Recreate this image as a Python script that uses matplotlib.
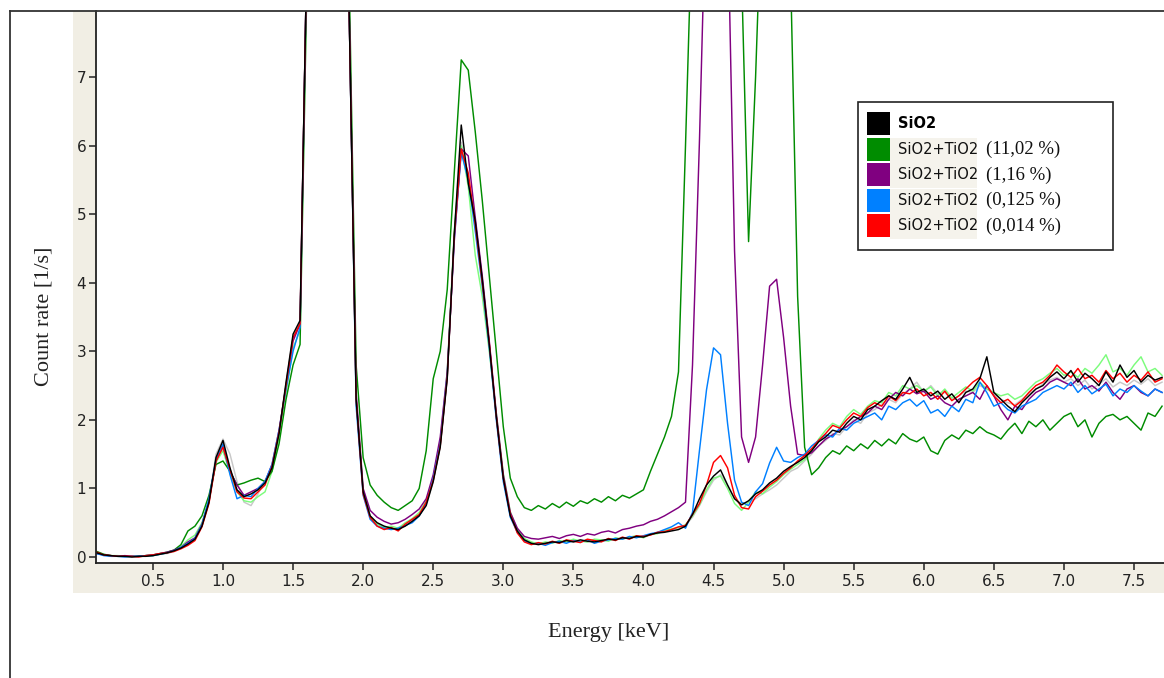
import numpy as np
import matplotlib
matplotlib.use("Agg")
import matplotlib.pyplot as plt
from matplotlib.patches import Rectangle
from matplotlib.lines import Line2D

# energy channels (keV), 0.05 keV apart
energie = np.round(np.arange(0.10, 7.7001, 0.05), 2)

sio2 = [0.06, 0.03, 0.02, 0.01, 0.01, 0.00, 0.01, 0.01, 0.02, 0.04, 0.06, 0.09, 0.13, 0.19, 0.26, 0.45, 0.80, 1.45, 1.70, 1.30,
        0.98, 0.88, 0.92, 0.98, 1.08, 1.30, 1.80, 2.55, 3.25, 3.45, 9.0, 20, 40, 45, 30, 15, 8.0, 2.30, 0.95, 0.60,
        0.50, 0.45, 0.42, 0.40, 0.45, 0.52, 0.60, 0.75, 1.10, 1.60, 2.60, 4.70, 6.30, 5.45, 4.90, 4.05, 3.10, 2.05, 1.15, 0.60,
        0.38, 0.25, 0.20, 0.18, 0.20, 0.22, 0.21, 0.24, 0.22, 0.25, 0.23, 0.22, 0.24, 0.26, 0.25, 0.28, 0.27, 0.30, 0.29, 0.33,
        0.35, 0.36, 0.38, 0.40, 0.45, 0.62, 0.85, 1.05, 1.18, 1.27, 1.05, 0.85, 0.76, 0.82, 0.92, 0.98, 1.08, 1.15, 1.25, 1.32,
        1.38, 1.45, 1.55, 1.68, 1.75, 1.85, 1.82, 1.95, 2.05, 2.00, 2.15, 2.20, 2.28, 2.35, 2.30, 2.45, 2.62, 2.40, 2.45, 2.35,
        2.42, 2.30, 2.38, 2.25, 2.40, 2.45, 2.60, 2.92, 2.40, 2.30, 2.20, 2.12, 2.25, 2.35, 2.45, 2.50, 2.62, 2.70, 2.60, 2.72,
        2.55, 2.68, 2.60, 2.50, 2.70, 2.55, 2.80, 2.62, 2.72, 2.55, 2.65, 2.58, 2.62]

tio2_1102 = [0.08, 0.04, 0.02, 0.01, 0.01, 0.01, 0.01, 0.02, 0.03, 0.05, 0.07, 0.10, 0.18, 0.38, 0.45, 0.60, 0.90, 1.35, 1.40, 1.25,
             1.05, 1.08, 1.12, 1.15, 1.10, 1.25, 1.65, 2.30, 2.80, 3.10, 8.5, 20, 40, 45, 30, 15, 8.5, 2.80, 1.45, 1.05,
             0.90, 0.80, 0.72, 0.68, 0.75, 0.82, 1.00, 1.55, 2.60, 3.00, 3.90, 5.60, 7.25, 7.10, 6.20, 5.20, 4.10, 3.00, 1.90, 1.15,
             0.88, 0.72, 0.68, 0.75, 0.70, 0.78, 0.72, 0.80, 0.74, 0.82, 0.78, 0.85, 0.80, 0.88, 0.82, 0.90, 0.86, 0.92, 0.98, 1.25,
             1.50, 1.75, 2.05, 2.70, 6.00, 9.5, 14, 20, 24, 22, 16, 11, 8.5, 4.60, 7.0, 10, 13, 12, 10, 8.5,
             3.80, 1.60, 1.20, 1.30, 1.45, 1.55, 1.50, 1.62, 1.55, 1.65, 1.58, 1.70, 1.62, 1.72, 1.65, 1.80, 1.72, 1.68, 1.75, 1.55,
             1.50, 1.70, 1.78, 1.72, 1.85, 1.80, 1.90, 1.82, 1.78, 1.72, 1.85, 1.95, 1.80, 1.98, 1.90, 2.00, 1.85, 1.95, 2.05, 2.10,
             1.90, 2.00, 1.75, 1.95, 2.05, 2.08, 2.00, 2.05, 1.95, 1.85, 2.10, 2.05, 2.20]

tio2_116 = [0.05, 0.03, 0.02, 0.01, 0.02, 0.01, 0.01, 0.02, 0.03, 0.05, 0.07, 0.10, 0.14, 0.22, 0.28, 0.48, 0.82, 1.40, 1.62, 1.25,
            1.05, 0.90, 0.95, 1.00, 1.10, 1.35, 1.85, 2.50, 3.15, 3.40, 9.0, 20, 40, 45, 30, 15, 8.0, 2.40, 1.00, 0.68,
            0.58, 0.52, 0.48, 0.50, 0.55, 0.62, 0.70, 0.85, 1.20, 1.75, 2.70, 4.60, 5.95, 5.85, 4.95, 4.10, 3.15, 2.10, 1.20, 0.65,
            0.42, 0.30, 0.27, 0.26, 0.28, 0.30, 0.27, 0.31, 0.33, 0.30, 0.34, 0.32, 0.36, 0.38, 0.35, 0.40, 0.42, 0.45, 0.47, 0.52,
            0.55, 0.60, 0.66, 0.72, 0.80, 2.80, 6.10, 10, 14, 13, 9.5, 4.46, 1.75, 1.38, 1.75, 2.80, 3.95, 4.05, 3.20, 2.20,
            1.50, 1.48, 1.52, 1.62, 1.72, 1.78, 1.85, 1.90, 1.98, 2.05, 2.10, 2.20, 2.15, 2.30, 2.40, 2.35, 2.45, 2.38, 2.42, 2.30,
            2.35, 2.25, 2.20, 2.30, 2.35, 2.40, 2.30, 2.50, 2.35, 2.15, 2.00, 2.20, 2.15, 2.30, 2.40, 2.45, 2.55, 2.60, 2.55, 2.50,
            2.60, 2.45, 2.50, 2.42, 2.55, 2.40, 2.30, 2.45, 2.50, 2.40, 2.35, 2.45, 2.40]

tio2_0125 = [0.05, 0.02, 0.01, 0.01, 0.00, 0.01, 0.01, 0.02, 0.02, 0.04, 0.06, 0.09, 0.14, 0.20, 0.27, 0.47, 0.85, 1.42, 1.65, 1.20,
             0.85, 0.90, 0.88, 1.00, 1.10, 1.35, 1.85, 2.45, 3.00, 3.35, 9.0, 20, 40, 45, 30, 15, 8.0, 2.20, 0.90, 0.55,
             0.45, 0.42, 0.40, 0.42, 0.46, 0.50, 0.60, 0.78, 1.15, 1.65, 2.65, 4.65, 5.90, 5.50, 4.75, 3.95, 3.05, 2.00, 1.10, 0.58,
             0.36, 0.24, 0.19, 0.20, 0.17, 0.21, 0.23, 0.20, 0.24, 0.22, 0.25, 0.20, 0.23, 0.25, 0.27, 0.26, 0.30, 0.28, 0.31, 0.34,
             0.36, 0.40, 0.44, 0.50, 0.42, 0.65, 1.56, 2.44, 3.05, 2.95, 1.95, 1.12, 0.80, 0.75, 0.95, 1.07, 1.37, 1.60, 1.40, 1.38,
             1.45, 1.50, 1.62, 1.70, 1.78, 1.75, 1.88, 1.85, 1.95, 2.00, 2.05, 2.10, 2.00, 2.20, 2.15, 2.25, 2.30, 2.20, 2.28, 2.10,
             2.15, 2.05, 2.20, 2.12, 2.30, 2.25, 2.55, 2.40, 2.20, 2.25, 2.15, 2.10, 2.20, 2.25, 2.30, 2.40, 2.45, 2.50, 2.45, 2.55,
             2.40, 2.50, 2.38, 2.45, 2.52, 2.35, 2.45, 2.40, 2.50, 2.42, 2.35, 2.45, 2.40]

tio2_0014 = [0.07, 0.03, 0.02, 0.01, 0.01, 0.01, 0.00, 0.02, 0.03, 0.05, 0.06, 0.08, 0.12, 0.17, 0.24, 0.44, 0.78, 1.40, 1.60, 1.28,
             0.95, 0.86, 0.85, 0.95, 1.05, 1.32, 1.82, 2.50, 3.20, 3.40, 9.0, 20, 40, 45, 30, 15, 8.0, 2.30, 0.92, 0.58,
             0.45, 0.40, 0.43, 0.38, 0.48, 0.55, 0.62, 0.80, 1.12, 1.62, 2.62, 4.68, 5.95, 5.60, 4.85, 4.00, 3.12, 2.05, 1.15, 0.62,
             0.35, 0.22, 0.18, 0.21, 0.19, 0.23, 0.20, 0.25, 0.23, 0.21, 0.26, 0.24, 0.22, 0.27, 0.24, 0.29, 0.26, 0.31, 0.30, 0.32,
             0.36, 0.37, 0.40, 0.44, 0.46, 0.62, 0.78, 1.05, 1.38, 1.48, 1.30, 0.90, 0.72, 0.70, 0.88, 0.96, 1.05, 1.12, 1.22, 1.30,
             1.40, 1.48, 1.58, 1.70, 1.80, 1.92, 1.88, 2.00, 2.10, 2.05, 2.18, 2.25, 2.20, 2.35, 2.28, 2.40, 2.38, 2.45, 2.35, 2.40,
             2.30, 2.42, 2.28, 2.35, 2.45, 2.55, 2.62, 2.50, 2.35, 2.25, 2.30, 2.20, 2.28, 2.40, 2.50, 2.55, 2.65, 2.80, 2.70, 2.62,
             2.75, 2.60, 2.65, 2.55, 2.72, 2.60, 2.68, 2.55, 2.65, 2.58, 2.70, 2.55, 2.60]

# two more measurements drawn in pale colours (not in the legend)
hellgruen = [0.06, 0.03, 0.02, 0.02, 0.01, 0.01, 0.01, 0.02, 0.02, 0.04, 0.06, 0.09, 0.15, 0.25, 0.32, 0.50, 0.82, 1.38, 1.55, 1.22,
             0.95, 0.82, 0.80, 0.88, 0.95, 1.25, 1.75, 2.40, 3.05, 3.30, 9.0, 20, 40, 45, 30, 15, 8.0, 2.35, 0.98, 0.60,
             0.48, 0.43, 0.45, 0.42, 0.50, 0.56, 0.65, 0.82, 1.15, 1.68, 2.70, 4.75, 6.00, 5.40, 4.40, 3.80, 3.00, 2.10, 1.22, 0.66,
             0.40, 0.27, 0.22, 0.19, 0.22, 0.20, 0.24, 0.22, 0.26, 0.23, 0.22, 0.26, 0.25, 0.23, 0.28, 0.26, 0.29, 0.31, 0.28, 0.33,
             0.34, 0.39, 0.41, 0.43, 0.47, 0.60, 0.76, 0.98, 1.15, 1.18, 1.00, 0.78, 0.68, 0.80, 0.95, 0.92, 1.02, 1.10, 1.20, 1.28,
             1.35, 1.42, 1.55, 1.72, 1.85, 1.95, 1.90, 2.05, 2.15, 2.08, 2.20, 2.28, 2.25, 2.40, 2.35, 2.50, 2.45, 2.50, 2.42, 2.48,
             2.35, 2.45, 2.32, 2.40, 2.48, 2.42, 2.55, 2.45, 2.40, 2.35, 2.38, 2.30, 2.35, 2.45, 2.55, 2.60, 2.68, 2.75, 2.65, 2.70,
             2.62, 2.75, 2.68, 2.80, 2.95, 2.70, 2.75, 2.65, 2.80, 2.92, 2.70, 2.75, 2.65]

grau = [0.05, 0.03, 0.01, 0.01, 0.01, 0.00, 0.01, 0.01, 0.02, 0.04, 0.05, 0.08, 0.13, 0.18, 0.26, 0.46, 0.82, 1.50, 1.72, 1.50,
        1.10, 0.80, 0.75, 0.92, 1.12, 1.28, 1.80, 2.55, 3.20, 3.40, 9.0, 20, 40, 45, 30, 15, 8.0, 2.30, 0.95, 0.58,
        0.48, 0.44, 0.41, 0.43, 0.46, 0.53, 0.61, 0.77, 1.10, 1.62, 2.62, 4.72, 6.05, 5.50, 4.88, 4.02, 3.08, 2.05, 1.18, 0.62,
        0.37, 0.26, 0.21, 0.19, 0.21, 0.22, 0.20, 0.23, 0.22, 0.24, 0.22, 0.23, 0.25, 0.24, 0.27, 0.27, 0.28, 0.29, 0.31, 0.32,
        0.36, 0.37, 0.40, 0.42, 0.46, 0.58, 0.75, 0.95, 1.12, 1.20, 1.05, 0.85, 0.78, 0.80, 0.85, 0.92, 0.98, 1.05, 1.15, 1.25,
        1.30, 1.40, 1.50, 1.62, 1.70, 1.80, 1.78, 1.90, 2.00, 1.95, 2.10, 2.15, 2.22, 2.30, 2.25, 2.38, 2.45, 2.55, 2.40, 2.50,
        2.38, 2.40, 2.30, 2.35, 2.42, 2.40, 2.50, 2.45, 2.38, 2.30, 2.25, 2.22, 2.30, 2.38, 2.45, 2.52, 2.58, 2.62, 2.55, 2.60,
        2.50, 2.58, 2.45, 2.52, 2.60, 2.48, 2.55, 2.50, 2.58, 2.52, 2.60, 2.50, 2.55]

legende_proben = ['SiO2', 'SiO2+TiO2', 'SiO2+TiO2', 'SiO2+TiO2', 'SiO2+TiO2']
legende_anteil = ['', '(11,02 %)', '(1,16 %)', '(0,125 %)', '(0,014 %)']
farben = ['#000000', '#008C00', '#800080', '#0080FF', '#FF0000']

x_ticks = [0.5, 1.0, 1.5, 2.0, 2.5, 3.0, 3.5, 4.0, 4.5, 5.0, 5.5, 6.0, 6.5, 7.0, 7.5]
y_ticks = [0, 1, 2, 3, 4, 5, 6, 7]

W, H = 1164, 678
beige = '#F1EEE4'

fig = plt.figure(figsize=(W / 100, H / 100), dpi=100)
fig.patch.set_facecolor('white')


def fx(px):
    return px / W


def fy(py):
    return 1 - py / H


# beige band behind tick labels
fig.patches.append(Rectangle((fx(73), fy(593)), fx(W) - fx(73), fy(11) - fy(593),
                             transform=fig.transFigure, facecolor=beige, edgecolor='none', zorder=-5))
# outer frame
fig.lines.append(Line2D([fx(10), fx(10)], [fy(11), fy(H + 5)], transform=fig.transFigure, color='#333333', lw=1.3))
fig.lines.append(Line2D([fx(10), fx(W + 5)], [fy(11), fy(11)], transform=fig.transFigure, color='#333333', lw=1.3))

ax = fig.add_axes([fx(96), fy(563), fx(W) - fx(96), fy(11) - fy(563)])
ax.set_facecolor('white')

serien = [(grau, '#C8C8C8'), (hellgruen, '#7CFC7C'), (tio2_1102, farben[1]), (tio2_116, farben[2]),
          (tio2_0125, farben[3]), (tio2_0014, farben[4]), (sio2, farben[0])]
for werte, farbe in serien:
    assert len(werte) == len(energie)
    ax.plot(energie, werte, color=farbe, lw=1.05)

ax.set_xlim(0.094, 7.714)
ax.set_ylim(-0.0875, 7.963)
ax.set_xticks(x_ticks)
ax.set_xticklabels([f'{t:.1f}' for t in x_ticks])
ax.set_yticks(y_ticks)
ax.tick_params(axis='both', direction='out', length=5, width=1.1, color='#222222',
               labelsize=11, labelcolor='#222222')
ax.tick_params(axis='x', pad=3)
ax.tick_params(axis='y', pad=2)
for s in ['top', 'right']:
    ax.spines[s].set_visible(False)
for s in ['left', 'bottom']:
    ax.spines[s].set_color('#222222')
    ax.spines[s].set_linewidth(1.3)

fig.text(fx(609), fy(633), 'Energy [keV]', ha='center', va='center',
         family='Liberation Serif', fontsize=16, color='#222222')
fig.text(fx(44), fy(316), 'Count rate [1/s]', ha='center', va='center', rotation=90,
         family='Liberation Serif', fontsize=16, color='#222222')

# legend box
fig.patches.append(Rectangle((fx(858), fy(250)), fx(1113) - fx(858), fy(102) - fy(250),
                             transform=fig.transFigure, facecolor='white', edgecolor='#222222', lw=1.2, zorder=5))
for i, (probe, anteil, farbe) in enumerate(zip(legende_proben, legende_anteil, farben)):
    top = 112 + i * 25.5
    mid = top + 12
    fig.patches.append(Rectangle((fx(867), fy(top + 23)), fx(890) - fx(867), fy(top) - fy(top + 23),
                                 transform=fig.transFigure, facecolor=farbe, edgecolor='none', zorder=6))
    if i == 0:
        fig.text(fx(898), fy(mid), probe, ha='left', va='center', fontsize=10.5,
                 fontweight='bold', color='black', zorder=7)
    else:
        fig.patches.append(Rectangle((fx(890), fy(top + 25)), fx(977) - fx(890), 25 / H,
                                     transform=fig.transFigure, facecolor='#F5F3EC', edgecolor='none', zorder=6))
        fig.text(fx(898), fy(mid), probe, ha='left', va='center', fontsize=10.5, color='#111111', zorder=7)
        fig.text(fx(986), fy(mid), anteil, ha='left', va='center', family='Liberation Serif',
                 fontsize=13.5, color='#111111', zorder=7)

fig.savefig('out.png', dpi=100)
